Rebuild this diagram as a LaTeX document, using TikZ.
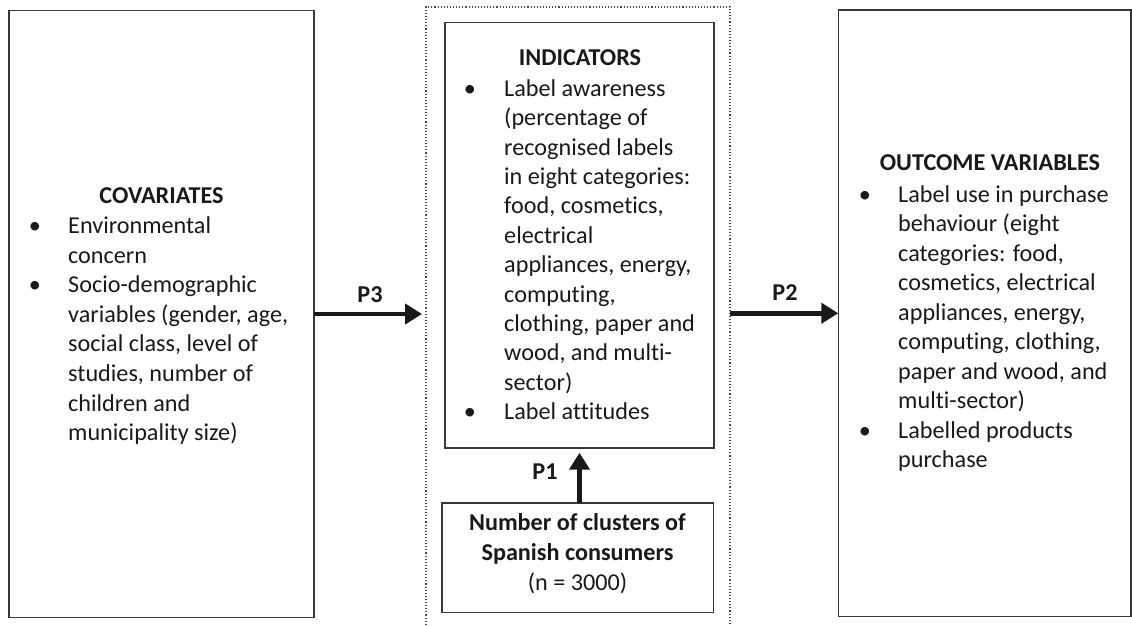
\documentclass[tikz,border=0pt]{standalone}
\usepackage{fontspec}
\setmainfont{Carlito}[Ligatures=NoCommon]
\usetikzlibrary{arrows.meta}
\newcommand{\bodyfont}{\fontsize{24.2}{29.5}\selectfont}
\tikzset{
  boxframe/.style={draw=black!78, line width=1.6pt, inner sep=0pt, outer sep=0pt, anchor=north west},
  framebox/.style={draw=black!70, line width=1.1pt, dotted, inner sep=0pt, outer sep=0pt, anchor=north west},
  bodyline/.style={anchor=base west, inner sep=0pt, font=\bodyfont, text=black!90},
  titleline/.style={anchor=base, inner sep=0pt, font=\bodyfont\bfseries, text=black!90},
  bulletmark/.style={anchor=base, inner sep=0pt, font=\bodyfont, text=black!90},
  arrowlabel/.style={inner sep=0pt, font=\bodyfont\bfseries, text=black!90},
  bigarrow/.style={line width=4.6pt, -{Triangle[length=17pt,width=20pt]}, black!90},
}
\begin{document}
\begin{tikzpicture}[x=1pt,y=-1pt]
\useasboundingbox (0,0) rectangle (1132,626);
% boxes
\node[boxframe, minimum width=305pt, minimum height=607pt] (cov) at (9,10.5) {};
\node[framebox, minimum width=304pt, minimum height=626pt] (grp) at (426,7) {};
\node[boxframe, minimum width=269pt, minimum height=425pt] (ind) at (445,22.7) {};
\node[boxframe, minimum width=271.5pt, minimum height=109.6pt] (clu) at (442,502.7) {};
\node[boxframe, minimum width=292.5pt, minimum height=606.5pt] (out) at (838.3,10) {};
% covariates text
\node[titleline] (covt) at (161.5,203.3) {COVARIATES};
\foreach \t [count=\i] in {{Environmental}, {concern}, {Socio-demographic}, {variables (gender, age,}, {social class, level of}, {studies, number of}, {children and}, {municipality size)}}
  \node[bodyline] (cov\i) at (68,{233.5+(\i-1)*29.6}) {\t};
\node[bulletmark] (covb1) at (35,233.5) {•};
\node[bulletmark] (covb2) at (35,{233.5+2*29.6}) {•};
% indicators text
\node[titleline] (indt) at (580,66) {INDICATORS};
\foreach \t [count=\i] in {{Label awareness}, {(percentage of}, {recognised labels}, {in eight categories:}, {food, cosmetics,}, {electrical}, {appliances, energy,}, {computing,}, {clothing, paper and}, {wood, and multi-}, {sector)}, {Label attitudes}}
  \node[bodyline] (ind\i) at (504,{96.3+(\i-1)*29.4}) {\t};
\node[bulletmark] (indb1) at (470,96.3) {•};
\node[bulletmark] (indb2) at (470,{96.3+11*29.4}) {•};
% outcome text
\node[titleline] (outt) at (990,170.5) {OUTCOME VARIABLES};
\foreach \t [count=\i] in {{Label use in purchase}, {behaviour (eight}, {categories: food,}, {cosmetics, electrical}, {appliances, energy,}, {computing, clothing,}, {paper and wood, and}, {multi-sector)}, {Labelled products}, {purchase}}
  \node[bodyline] (out\i) at (898,{202+(\i-1)*29.5}) {\t};
\node[bulletmark] (outb1) at (865,202) {•};
\node[bulletmark] (outb2) at (865,{202+8*29.5}) {•};
% cluster text
\node[titleline] (clu1) at (577.5,530.5) {Number of clusters of};
\node[titleline] (clu2) at (577.5,560.5) {Spanish consumers};
\node[anchor=base, inner sep=0pt, font=\bodyfont, text=black!90] (clu3) at (577.5,590) {(n = 3000)};
% arrows
\draw[bigarrow, shorten >=4pt] (cov.east) -- (cov.east -| grp.west);
\draw[bigarrow] (out.west -| grp.east) -- (out.west);
\draw[bigarrow, shorten >=5pt] (ind.south |- clu.north) -- (ind.south);
% arrow labels
\node[arrowlabel] (p3) at (370,295) {P3};
\node[arrowlabel] (p2) at (785,293) {P2};
\node[arrowlabel] (p1) at (545,471.7) {P1};
\end{tikzpicture}
\end{document}
